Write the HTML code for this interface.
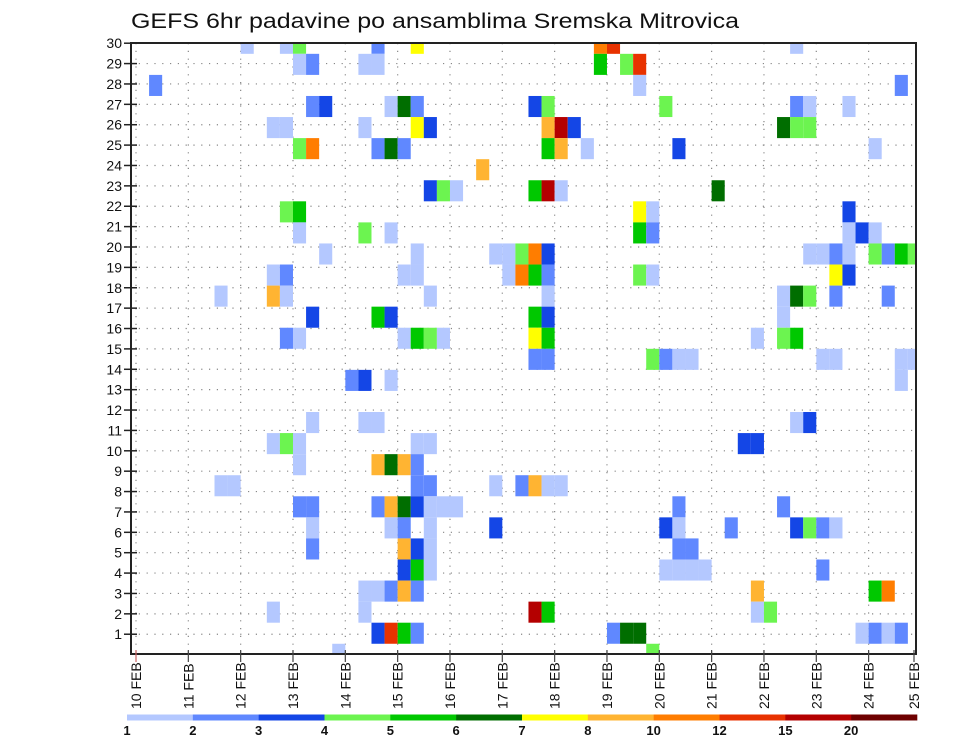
<!DOCTYPE html>
<html><head><meta charset="utf-8"><style>
html,body{margin:0;padding:0;background:#fff;}
svg{display:block;font-family:"Liberation Sans",Arial,sans-serif;}
</style></head><body>
<svg id="chart" width="960" height="742" viewBox="0 0 960 742">
<text x="131" y="28" font-size="21" fill="#111" textLength="608" lengthAdjust="spacingAndGlyphs">GEFS 6hr padavine po ansamblima Sremska Mitrovica</text>
<g id="grid"></g>
<g id="cells"></g>
<rect x="131" y="43" width="785" height="611" fill="none" stroke="#222" stroke-width="2"/>
<g id="axes"></g>
<g id="colorbar"></g>
</svg>
<script>
// categories
const dayLabels = ["10 FEB","11 FEB","12 FEB","13 FEB","14 FEB","15 FEB","16 FEB","17 FEB","18 FEB","19 FEB","20 FEB","21 FEB","22 FEB","23 FEB","24 FEB","25 FEB"];
const memberTicks = [1,2,3,4,5,6,7,8,9,10,11,12,13,14,15,16,17,18,19,20,21,22,23,24,25,26,27,28,29,30];
const levelLabels = ["1","2","3","4","5","6","7","8","10","12","15","20"];
const levelColors = ["#b4c8ff","#6088ff","#1446e6","#6cf450","#00c800","#006e00","#ffff00","#ffb432","#ff7d00","#e83200","#b40000","#6e0000"];
// cells: [member band, 6hr step, level class]
const cellData = [
[29,8,1],[29,11,1],[29,12,4],[29,18,2],[29,21,7],[29,35,9],[29,36,10],[29,50,1],
[28,12,1],[28,13,2],[28,17,1],[28,18,1],[28,35,5],[28,37,4],[28,38,10],
[27,1,2],[27,38,1],[27,58,2],
[26,13,2],[26,14,3],[26,19,1],[26,20,6],[26,21,2],[26,30,3],[26,31,4],[26,40,4],[26,50,2],[26,51,1],[26,54,1],
[25,10,1],[25,11,1],[25,17,1],[25,21,7],[25,22,3],[25,31,8],[25,32,11],[25,33,3],[25,49,6],[25,50,4],[25,51,4],
[24,12,4],[24,13,9],[24,18,2],[24,19,6],[24,20,2],[24,31,5],[24,32,8],[24,34,1],[24,41,3],[24,56,1],
[23,26,8],
[22,22,3],[22,23,4],[22,24,1],[22,30,5],[22,31,11],[22,32,1],[22,44,6],
[21,11,4],[21,12,5],[21,38,7],[21,39,1],[21,54,3],
[20,12,1],[20,17,4],[20,19,1],[20,38,5],[20,39,2],[20,54,1],[20,55,3],[20,56,1],
[19,14,1],[19,21,1],[19,27,1],[19,28,1],[19,29,4],[19,30,9],[19,31,3],[19,51,1],[19,52,1],[19,53,2],[19,54,1],[19,56,4],[19,57,2],[19,58,5],[19,59,4],
[18,10,1],[18,11,2],[18,20,1],[18,21,1],[18,28,1],[18,29,9],[18,30,5],[18,31,2],[18,38,4],[18,39,1],[18,53,7],[18,54,3],
[17,6,1],[17,10,8],[17,11,1],[17,22,1],[17,31,1],[17,49,1],[17,50,6],[17,51,4],[17,53,2],[17,57,2],
[16,13,3],[16,18,5],[16,19,3],[16,30,5],[16,31,3],[16,49,1],
[15,11,2],[15,12,1],[15,20,1],[15,21,5],[15,22,4],[15,23,1],[15,30,7],[15,31,5],[15,47,1],[15,49,4],[15,50,5],
[14,30,2],[14,31,2],[14,39,4],[14,40,2],[14,41,1],[14,42,1],[14,52,1],[14,53,1],[14,58,1],[14,59,1],
[13,16,2],[13,17,3],[13,19,1],[13,58,1],
[11,13,1],[11,17,1],[11,18,1],[11,50,1],[11,51,3],
[10,10,1],[10,11,4],[10,12,1],[10,21,1],[10,22,1],[10,46,3],[10,47,3],
[9,12,1],[9,18,8],[9,19,6],[9,20,8],[9,21,2],
[8,6,1],[8,7,1],[8,21,2],[8,22,2],[8,27,1],[8,29,2],[8,30,8],[8,31,1],[8,32,1],
[7,12,2],[7,13,2],[7,18,2],[7,19,8],[7,20,6],[7,21,3],[7,22,1],[7,23,1],[7,24,1],[7,41,2],[7,49,2],
[6,13,1],[6,19,1],[6,20,2],[6,22,1],[6,27,3],[6,40,3],[6,41,1],[6,45,2],[6,50,3],[6,51,4],[6,52,2],[6,53,1],
[5,13,2],[5,20,8],[5,21,3],[5,22,1],[5,41,2],[5,42,2],
[4,20,3],[4,21,5],[4,22,1],[4,40,1],[4,41,1],[4,42,1],[4,43,1],[4,52,2],
[3,17,1],[3,18,1],[3,19,2],[3,20,8],[3,21,2],[3,47,8],[3,56,5],[3,57,9],
[2,10,1],[2,17,1],[2,30,11],[2,31,5],[2,47,1],[2,48,4],
[1,18,3],[1,19,10],[1,20,5],[1,21,2],[1,36,2],[1,37,6],[1,38,6],[1,55,1],[1,56,2],[1,57,1],[1,58,2],
[0,15,1],[0,39,4]
];

const NS="http://www.w3.org/2000/svg";
const X0=136, DAY=52.33, STEP=DAY/4, LEFT=131, RIGHT=916, TOP=43, BOT=654;
const xOfStep = s => X0 + s*STEP;
const yOfTick = k => 654.6 - k*20.38;
const BAND = (BOT-TOP)/29;
const yOfBand = j => 654.3 - j*BAND;
function mk(tag, attrs, parent){const e=document.createElementNS(NS,tag);for(const k in attrs)e.setAttribute(k,attrs[k]);parent.appendChild(e);return e;}

const grid=document.getElementById('grid');
memberTicks.forEach(k=>{
  const l=mk('line',{x1:LEFT,x2:RIGHT,y1:yOfTick(k),y2:yOfTick(k),stroke:'#888','stroke-width':1.2,'stroke-dasharray':'1.2 6.6'},grid);
  
  
});
dayLabels.forEach((d,i)=>{
  const x=X0+i*DAY; if(x>RIGHT)return;
  const l=mk('line',{x1:x,x2:x,y1:TOP,y2:BOT,stroke:'#888','stroke-width':1.2,'stroke-dasharray':'1.2 6.6'},grid);
  
  
});

const cells=document.getElementById('cells');
cellData.forEach(([m,s,lv])=>{
  const x=xOfStep(s); const yc=yOfBand(m);
  const y1=Math.max(TOP,yc-BAND/2), y2=Math.min(BOT,yc+BAND/2);
  const x2=Math.min(RIGHT,x+STEP);
  const r=mk('rect',{x:x,y:y1,width:x2-x,height:y2-y1,fill:levelColors[lv-1]},cells);
  
  
});

const axes=document.getElementById('axes');
memberTicks.forEach(k=>{
  const y=yOfTick(k);
  const t=mk('line',{x1:124,x2:137,y1:y,y2:y,stroke:'#222','stroke-width':1.5},axes);
  
  
  const tx=mk('text',{x:122,y:y+5,'font-size':14,'text-anchor':'end',fill:'#111'},axes);
  tx.textContent=String(k);
  
  
});
dayLabels.forEach((d,i)=>{
  let x=X0+i*DAY; if(x>RIGHT)x=RIGHT-2;
  const t=mk('line',{x1:x,x2:x,y1:BOT-4,y2:662,stroke:i===0?'#c66':'#444','stroke-width':1.2},axes);
  
  
  const tx=mk('text',{x:0,y:0,'font-size':14,fill:'#111',transform:`translate(${x+5},709) rotate(-90)`},axes);
  tx.textContent=d;
  
  
});

const cb=document.getElementById('colorbar');
const CB0=127, CBW=(917-127)/levelColors.length;
levelColors.forEach((c,i)=>{
  const r=mk('rect',{x:CB0+i*CBW,y:714.5,width:CBW+0.3,height:6,fill:c},cb);
  
  
});
levelLabels.forEach((l,i)=>{
  const t=mk('text',{x:CB0+i*CBW,y:735,'font-size':13,'text-anchor':'middle',fill:'#111','font-weight':'bold'},cb);
  t.textContent=l;
  
  
});
</script>
</body></html>
